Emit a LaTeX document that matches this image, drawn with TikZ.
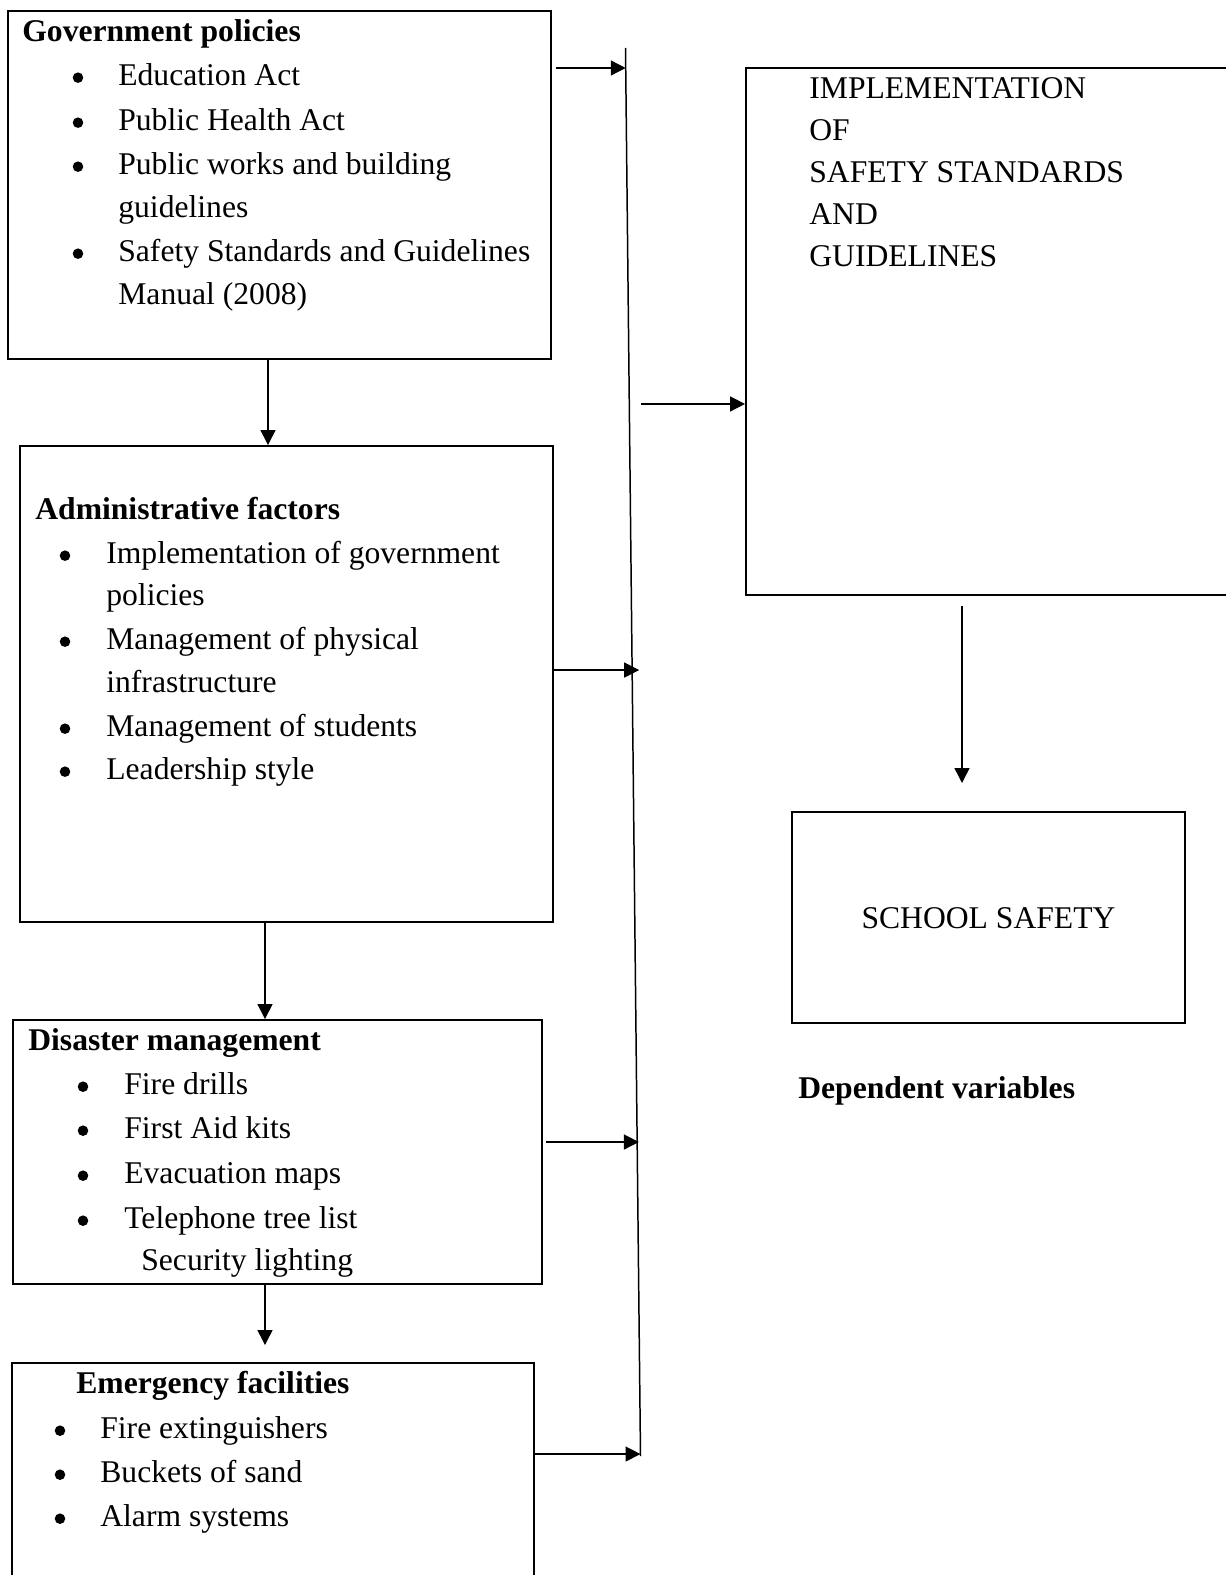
\documentclass[tikz,border=0pt]{standalone}
\usepackage{fontspec}
\setmainfont{Liberation Serif}
\usepackage{tikz}
\usetikzlibrary{positioning,arrows.meta,calc,fit}
\newcommand{\bodyfont}{\fontsize{18}{22}\selectfont}

\begin{document}
\begin{tikzpicture}[
  x=0.02cm, y=-0.02cm,
  box/.style={rectangle, draw=black, line width=1.1pt, inner sep=0pt},
  head/.style={anchor=base west, inner sep=0pt, yshift=-1.1pt, font=\bodyfont\bfseries},
  item/.style={anchor=base west, inner sep=0pt, yshift=-1.1pt, font=\bodyfont},
  bul/.style={circle, fill=black, inner sep=0pt, minimum size=6pt, yshift=3.6pt},
  arr/.style={-{Triangle[length=8.5pt, width=8.5pt]}, line width=0.85pt, draw=black},
]
\useasboundingbox (0,0) rectangle (1226,1575);
\clip (0,0) rectangle (1226,1575);

% boxes
\node[box, fit={(8,11) (551,359)}] (gov) {};
\node[box, fit={(20,446) (553,922)}] (adm) {};
\node[box, fit={(13,1020) (542,1284)}] (dis) {};
\node[box, fit={(12,1363) (534,1610)}] (eme) {};
\node[box, fit={(746,68) (1245,595)}] (impl) {};
\node[box, fit={(792,812) (1185,1023)}] (safe) {};

% government policies
\node[head] (govt) at (22,40) {Government policies};
\foreach \y/\t [count=\i] in {84/Education Act, 129/Public Health Act, 173/Public works and building, 216/guidelines, 260/Safety Standards and Guidelines, 303/Manual (2008)}
  \node[item] (g\i) at (118,\y) {\t};
\foreach \y [count=\i] in {84,129,173,260}
  \node[bul] (gb\i) at (78,\y) {};

% administrative factors
\node[head] (admt) at (35,518) {Administrative factors};
\foreach \y/\t [count=\i] in {562/Implementation of government, 604/policies, 648/Management of physical, 691/infrastructure, 735/Management of students, 778/Leadership style}
  \node[item] (a\i) at (106,\y) {\t};
\foreach \y [count=\i] in {562,648,735,778}
  \node[bul] (ab\i) at (65,\y) {};

% disaster management
\node[head] (dist) at (28,1049) {Disaster management};
\foreach \y/\t [count=\i] in {1093/Fire drills, 1137/First Aid kits, 1182/Evacuation maps, 1227/Telephone tree list}
  \node[item] (d\i) at (124,\y) {\t};
\foreach \y [count=\i] in {1093,1137,1182,1227}
  \node[bul] (db\i) at (83,\y) {};
\node[item] (d5) at (141,1269) {Security lighting};

% emergency facilities
\node[head] (emet) at (76,1392) {Emergency facilities};
\foreach \y/\t [count=\i] in {1437/Fire extinguishers, 1481/Buckets of sand, 1525/Alarm systems}
  \node[item] (e\i) at (100,\y) {\t};
\foreach \y [count=\i] in {1437,1481,1525}
  \node[bul] (eb\i) at (60,\y) {};

% right column
\foreach \y/\t [count=\i] in {97/IMPLEMENTATION, 139/OF, 181/SAFETY STANDARDS, 223/AND, 265/GUIDELINES}
  \node[item] (i\i) at (809,\y) {\t};
\node[font=\bodyfont, inner sep=0pt, yshift=-0.6pt] (safet) at (safe.center) {SCHOOL SAFETY};
\node[head] (dep) at (798,1097) {Dependent variables};

% collecting line
\coordinate (ltop) at (625.5,48);
\coordinate (lbot) at (640.5,1456);
\draw[line width=0.85pt] (ltop) -- (lbot);
\coordinate (p0) at ($(ltop)!0.2528!(lbot)$);
\coordinate (p1) at ($(ltop)!0.0142!(lbot)$);
\coordinate (p2) at ($(ltop)!0.4418!(lbot)$);
\coordinate (p3) at ($(ltop)!0.7770!(lbot)$);
\coordinate (p4) at ($(ltop)!0.9986!(lbot)$);

\draw[arr, shorten <=2.3pt] (gov.east |- p1) -- (p1);
\draw[arr, shorten >=-4pt] (adm.east |- p2) -- (p2);
\draw[arr, shorten <=1.7pt, shorten >=-1pt] (dis.east |- p3) -- (p3);
\draw[arr] (eme.east |- p4) -- (p4);
\draw[arr, shorten <=6.8pt] (p0) -- (impl.west |- p0);

% downward arrows
\coordinate (dx1) at (268,0);
\coordinate (dx2) at (265,0);
\coordinate (de) at (265,1345);
\coordinate (ie) at (962,783);
\draw[arr] (gov.south -| dx1) -- (adm.north -| dx1);
\draw[arr] (adm.south -| dx2) -- (dis.north -| dx2);
\draw[arr] (dis.south -| de) -- (de);
\draw[arr, shorten <=5.5pt] (impl.south -| ie) -- (ie);
\end{tikzpicture}
\end{document}
